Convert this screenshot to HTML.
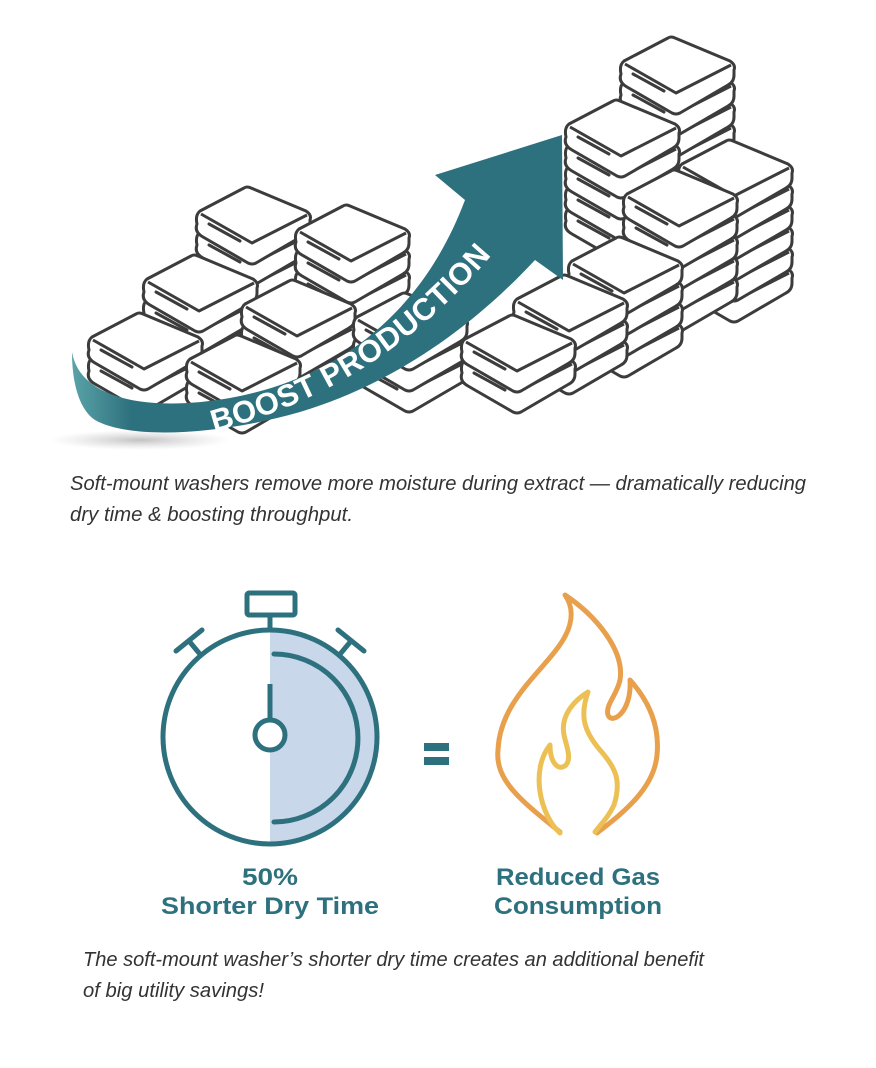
<!DOCTYPE html>
<html><head><meta charset="utf-8"><style>
html,body{margin:0;padding:0;background:#fff;}
svg{display:block;}
</style></head><body>
<svg width="876" height="1068" viewBox="0 0 876 1068" xmlns="http://www.w3.org/2000/svg">
<defs>
<g id="tw">
<path d="M2,-1 L46,-24 Q49,-26 53,-24 L108,-1 Q114,3 112,8 L112,13 Q112,20 106,23 L58,51 Q54,53 50,51 L5,25 Q-4,20 -1,12 Q-3,3 2,-1 Z" fill="#fff" stroke="#3c3c3c" stroke-width="3" stroke-linejoin="round"/>
<path d="M3,2 L54,31 L109,3" fill="none" stroke="#3c3c3c" stroke-width="3" stroke-linejoin="round"/>
<path d="M11,12 L42,29" fill="none" stroke="#3c3c3c" stroke-width="3" stroke-linecap="round"/>
</g>
<linearGradient id="rg" x1="0" y1="0" x2="1" y2="0">
<stop offset="0" stop-color="#5aa3a8"/><stop offset="0.12" stop-color="#2e717e"/><stop offset="1" stop-color="#2e717e"/>
</linearGradient>
<radialGradient id="sh" cx="0.5" cy="0.5" r="0.5">
<stop offset="0" stop-color="#999" stop-opacity="0.6"/><stop offset="1" stop-color="#bbb" stop-opacity="0"/>
</radialGradient>
<path id="tp" d="M214,432 C330,400 425,342 512,230" fill="none"/>
</defs>

<ellipse cx="140" cy="440" rx="90" ry="10" fill="url(#sh)"/>

<g>
<use href="#tw" x="622" y="125"/><use href="#tw" x="622" y="104"/><use href="#tw" x="622" y="83"/><use href="#tw" x="622" y="62"/>
<use href="#tw" x="567" y="209"/><use href="#tw" x="567" y="188"/><use href="#tw" x="567" y="167"/><use href="#tw" x="567" y="146"/><use href="#tw" x="567" y="125"/>
<use href="#tw" x="198" y="254"/><use href="#tw" x="198" y="233"/><use href="#tw" x="198" y="212"/>
<use href="#tw" x="680" y="270"/><use href="#tw" x="680" y="249"/><use href="#tw" x="680" y="228"/><use href="#tw" x="680" y="207"/><use href="#tw" x="680" y="186"/><use href="#tw" x="680" y="165"/>
<use href="#tw" x="625" y="279"/><use href="#tw" x="625" y="258"/><use href="#tw" x="625" y="237"/><use href="#tw" x="625" y="216"/><use href="#tw" x="625" y="195"/>
<use href="#tw" x="297" y="293"/><use href="#tw" x="297" y="272"/><use href="#tw" x="297" y="251"/><use href="#tw" x="297" y="230"/>
<use href="#tw" x="145" y="322"/><use href="#tw" x="145" y="301"/><use href="#tw" x="145" y="280"/>
<use href="#tw" x="570" y="325"/><use href="#tw" x="570" y="304"/><use href="#tw" x="570" y="283"/><use href="#tw" x="570" y="262"/>
<use href="#tw" x="515" y="342"/><use href="#tw" x="515" y="321"/><use href="#tw" x="515" y="300"/>
<use href="#tw" x="243" y="347"/><use href="#tw" x="243" y="326"/><use href="#tw" x="243" y="305"/>
<use href="#tw" x="90" y="359"/><use href="#tw" x="90" y="338"/>
<use href="#tw" x="355" y="360"/><use href="#tw" x="355" y="339"/><use href="#tw" x="355" y="318"/>
<use href="#tw" x="463" y="361"/><use href="#tw" x="463" y="340"/>
<use href="#tw" x="188" y="381"/><use href="#tw" x="188" y="360"/>
</g>

<path d="M72,352 C80,400 150,412 230,398 C330,380 420,320 465,200 L435,175 L562,135 L563,280 L535,260 C470,330 390,385 300,412 C220,435 130,440 95,420 C80,410 72,385 72,352 Z" fill="url(#rg)"/>
<text font-family="Liberation Sans, sans-serif" font-weight="bold" font-size="31" fill="#fff" letter-spacing="0.5"><textPath href="#tp" textLength="335" lengthAdjust="spacingAndGlyphs">BOOST PRODUCTION</textPath></text>

<g font-family="Liberation Sans, sans-serif" font-style="italic" font-size="20" fill="#333">
<text x="70" y="490" textLength="736" lengthAdjust="spacingAndGlyphs">Soft-mount washers remove more moisture during extract — dramatically reducing</text>
<text x="70" y="521" textLength="283" lengthAdjust="spacingAndGlyphs">dry time &amp; boosting throughput.</text>
</g>

<g stroke="#2e717e" stroke-width="5" fill="none" stroke-linecap="round">
<path d="M270,630 A107,107 0 0 1 270,844 Z" fill="#c9d7ea" stroke="none"/>
<circle cx="270" cy="737" r="107"/>
<path d="M274,654 A84,84 0 0 1 274,822"/>
<rect x="247" y="593" width="48" height="22" rx="2"/>
<line x1="270" y1="615" x2="270" y2="630"/>
<line x1="176" y1="651" x2="202" y2="630"/>
<line x1="189" y1="641" x2="199" y2="653"/>
<line x1="338" y1="630" x2="364" y2="651"/>
<line x1="351" y1="641" x2="341" y2="653"/>
<line x1="270" y1="684" x2="270" y2="720" stroke-linecap="butt"/>
<circle cx="270" cy="735" r="15" fill="#fff"/>
</g>

<rect x="424" y="743" width="25" height="8" fill="#2e717e"/>
<rect x="424" y="757" width="25" height="8" fill="#2e717e"/>

<path d="M560,832 C520,800 495,780 498,750 C500,700 545,670 563,640 C575,620 572,605 565,595 C595,615 625,650 620,680 C617,695 605,705 608,715 C612,725 632,712 630,680 C648,700 660,725 657,755 C654,790 620,815 597,833" fill="none" stroke="#e8a04c" stroke-width="5" stroke-linecap="round" stroke-linejoin="round"/>
<path d="M560,833 C540,815 530,770 550,745 C550,762 558,772 566,765 C572,758 566,745 564,735 C560,715 575,700 588,692 C580,715 583,730 600,750 C615,767 622,780 614,805 C608,818 600,825 595,832" fill="none" stroke="#ecc055" stroke-width="5" stroke-linecap="round" stroke-linejoin="round"/>

<g font-family="Liberation Sans, sans-serif" font-weight="bold" font-size="24" fill="#2e717e" text-anchor="middle">
<text x="270" y="885" textLength="56" lengthAdjust="spacingAndGlyphs">50%</text>
<text x="270" y="914" textLength="218" lengthAdjust="spacingAndGlyphs">Shorter Dry Time</text>
<text x="578" y="885" textLength="164" lengthAdjust="spacingAndGlyphs">Reduced Gas</text>
<text x="578" y="914" textLength="168" lengthAdjust="spacingAndGlyphs">Consumption</text>
</g>

<g font-family="Liberation Sans, sans-serif" font-style="italic" font-size="20" fill="#333">
<text x="83" y="966" textLength="621" lengthAdjust="spacingAndGlyphs">The soft-mount washer’s shorter dry time creates an additional benefit</text>
<text x="83" y="997" textLength="181" lengthAdjust="spacingAndGlyphs">of big utility savings!</text>
</g>
</svg>
</body></html>
